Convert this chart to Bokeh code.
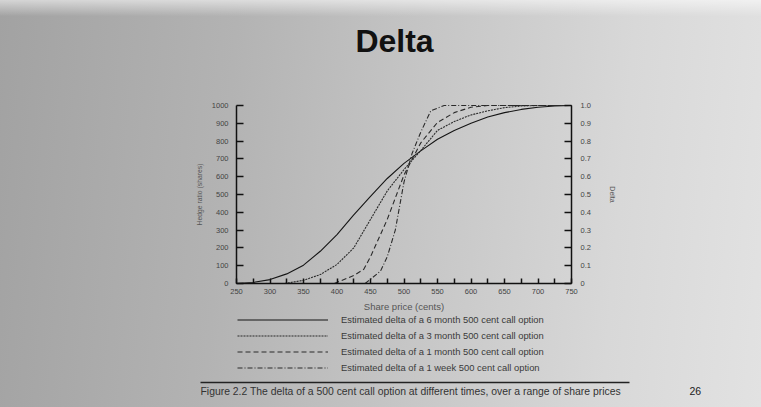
from bokeh.plotting import figure
from bokeh.models import (Range1d, LinearAxis, FixedTicker, Legend, LegendItem, Label,
                          BoxAnnotation)
from bokeh.embed import file_html
from bokeh.resources import INLINE

# ---- data ----
price_6m = [250, 275, 300, 325, 350, 375, 400, 425, 450, 475, 500, 525, 550, 575, 600, 625, 650, 675, 700, 725, 750]
delta_6m = [0.0, 0.006, 0.022, 0.054, 0.103, 0.181, 0.275, 0.385, 0.49, 0.59, 0.675, 0.745, 0.81, 0.86, 0.90, 0.935, 0.96, 0.978, 0.99, 0.997, 1.0]

price_3m = [322, 350, 375, 400, 425, 450, 475, 500, 525, 550, 575, 600, 625, 650, 675, 700, 750]
delta_3m = [0.0, 0.018, 0.05, 0.107, 0.20, 0.36, 0.52, 0.64, 0.747, 0.86, 0.91, 0.947, 0.97, 0.988, 0.997, 1.0, 1.0]

price_1m = [396, 425, 440, 450, 475, 500, 525, 550, 575, 600, 625, 750]
delta_1m = [0.0, 0.045, 0.08, 0.15, 0.36, 0.61, 0.79, 0.905, 0.96, 0.99, 1.0, 1.0]

price_1w = [442, 465, 475, 487, 500, 512, 525, 540, 560, 750]
delta_1w = [0.0, 0.07, 0.15, 0.30, 0.57, 0.73, 0.85, 0.97, 1.0, 1.0]

series_labels = [
    "Estimated delta of a 6 month 500 cent call option",
    "Estimated delta of a 3 month 500 cent call option",
    "Estimated delta of a 1 month 500 cent call option",
    "Estimated delta of a 1 week 500 cent call option",
]

price_ticks = [250, 300, 350, 400, 450, 500, 550, 600, 650, 700, 750]
price_minor_ticks = [275, 325, 375, 425, 475, 525, 575, 625, 675, 725]
hedge_ticks = [0, 100, 200, 300, 400, 500, 600, 700, 800, 900, 1000]
delta_ticks = [0, 0.1, 0.2, 0.3, 0.4, 0.5, 0.6, 0.7, 0.8, 0.9, 1.0]
delta_tick_labels = ["0", "0.1", "0.2", "0.3", "0.4", "0.5", "0.6", "0.7", "0.8", "0.9", "1.0"]

title_text = "Delta"
caption_text = "Figure 2.2  The delta of a 500 cent call option at different times, over a range of share prices"
page_number = "26"

FONT = "Liberation Sans"

# ---- layout: the frame covers the whole slide; axes are pinned inside it ----
W, H = 761, 407
PX_LEFT, PX_RIGHT, PX_TOP, PX_BOTTOM = 236, 571, 105, 283   # plot-area edges in pixels
X0, X1 = 250, 750
Y0, Y1 = 0, 1000
kx = (PX_RIGHT - PX_LEFT) / (X1 - X0)
ky = (PX_BOTTOM - PX_TOP) / (Y1 - Y0)
x_start = X0 - PX_LEFT / kx
x_end = X0 + (W - PX_LEFT) / kx
y_start = Y0 - (H - PX_BOTTOM) / ky
y_end = Y0 + PX_BOTTOM / ky

p = figure(width=W, height=H, output_backend="svg", toolbar_location=None,
           x_range=Range1d(x_start, x_end), y_range=Range1d(y_start, y_end),
           x_axis_location=None, y_axis_location=None,
           min_border=0, min_border_left=0, min_border_right=0,
           min_border_top=0, min_border_bottom=0)
p.extra_y_ranges = {"delta": Range1d(y_start / 1000, y_end / 1000)}
p.background_fill_color = None
p.border_fill_color = None
p.outline_line_color = None
p.xgrid.visible = False
p.ygrid.visible = False
p.styles = {"background":
            "linear-gradient(180deg, rgba(255,255,255,0.55) 0%, rgba(255,255,255,0) 4%), "
            "linear-gradient(95deg, #a2a2a2 0%, #b3b3b3 30%, #c6c6c6 55%, #d8d8d8 80%, #e2e2e2 100%)"}

def style_axis(ax):
    ax.axis_line_color = "#111111"
    ax.axis_line_width = 1.5
    ax.major_tick_line_color = "#111111"
    ax.major_tick_line_width = 1.5
    ax.major_tick_out = 0
    ax.major_tick_in = 7
    ax.minor_tick_out = 0
    ax.minor_tick_in = 0
    ax.major_label_text_font = FONT
    ax.major_label_text_font_size = "7.5px"
    ax.major_label_text_color = "#444444"
    ax.axis_label_text_font = FONT
    ax.axis_label_text_font_style = "normal"
    ax.axis_label_text_color = "#555555"

# bottom axis (share price)
xa = LinearAxis(fixed_location=Y0, bounds=(X0, X1),
                ticker=FixedTicker(ticks=price_ticks, minor_ticks=price_minor_ticks),
                axis_label="Share price (cents)")
style_axis(xa)
xa.major_tick_in = 5
xa.minor_tick_in = 5
xa.minor_tick_line_color = "#111111"
xa.minor_tick_line_width = 1.5
xa.axis_label_text_font_size = "9.5px"
xa.axis_label_standoff = 4
xa.major_label_standoff = 5
p.add_layout(xa, "below")

# left axis (hedge ratio)
ya = LinearAxis(fixed_location=X0, bounds=(Y0, Y1), ticker=FixedTicker(ticks=hedge_ticks),
                axis_label="Hedge ratio (shares)")
style_axis(ya)
ya.axis_label_text_font_size = "6.8px"
ya.major_label_standoff = 8
ya.axis_label_standoff = 6
p.add_layout(ya, "left")

# right axis (delta)
ra = LinearAxis(y_range_name="delta", fixed_location=X1, bounds=(0, 1),
                ticker=FixedTicker(ticks=delta_ticks),
                major_label_overrides=dict(zip(delta_ticks, delta_tick_labels)),
                axis_label="Delta")
style_axis(ra)
ra.axis_label_text_font_size = "7px"
ra.major_label_standoff = 9
ra.axis_label_standoff = 15
p.add_layout(ra, "right")

r6 = p.line(price_6m, delta_6m, y_range_name="delta", line_color="#151515", line_width=1.1)
r3 = p.line(price_3m, delta_3m, y_range_name="delta", line_color="#2a2a2a", line_width=1.1, line_dash="2 1")
r1 = p.line(price_1m, delta_1m, y_range_name="delta", line_color="#2a2a2a", line_width=1.1, line_dash="5 3")
rw = p.line(price_1w, delta_1w, y_range_name="delta", line_color="#2a2a2a", line_width=1.1, line_dash="5 2 1 2")

legend = Legend(items=[LegendItem(label=lab, renderers=[r]) for lab, r in zip(series_labels, [r6, r3, r1, rw])],
                location=(237, 34), glyph_width=91, glyph_height=11, label_height=11,
                spacing=5, padding=0, margin=0, label_standoff=13,
                border_line_color=None, background_fill_alpha=0,
                label_text_font=FONT, label_text_font_size="9.4px", label_text_color="#3a3a3a")
p.add_layout(legend)

# slide title
p.add_layout(Label(x=394, y=H - 40, x_units="screen", y_units="screen", text=title_text,
                   text_font=FONT, text_font_size="32px", text_font_style="bold",
                   text_align="center", text_baseline="middle", text_color="#111111"))

# rule above the caption
p.add_layout(BoxAnnotation(left=200, right=629, bottom=H - 382.7, top=H - 381.3,
                           left_units="screen", right_units="screen",
                           top_units="screen", bottom_units="screen",
                           fill_color="#222222", fill_alpha=1, line_color=None))

p.add_layout(Label(x=200, y=H - 391, x_units="screen", y_units="screen", text=caption_text,
                   text_font=FONT, text_font_size="10.4px", text_baseline="middle",
                   text_color="#333333"))
p.add_layout(Label(x=689, y=H - 390.5, x_units="screen", y_units="screen", text=page_number,
                   text_font=FONT, text_font_size="10.5px", text_baseline="middle",
                   text_color="#222222"))

open("out.html", "w").write(file_html(p, INLINE))
